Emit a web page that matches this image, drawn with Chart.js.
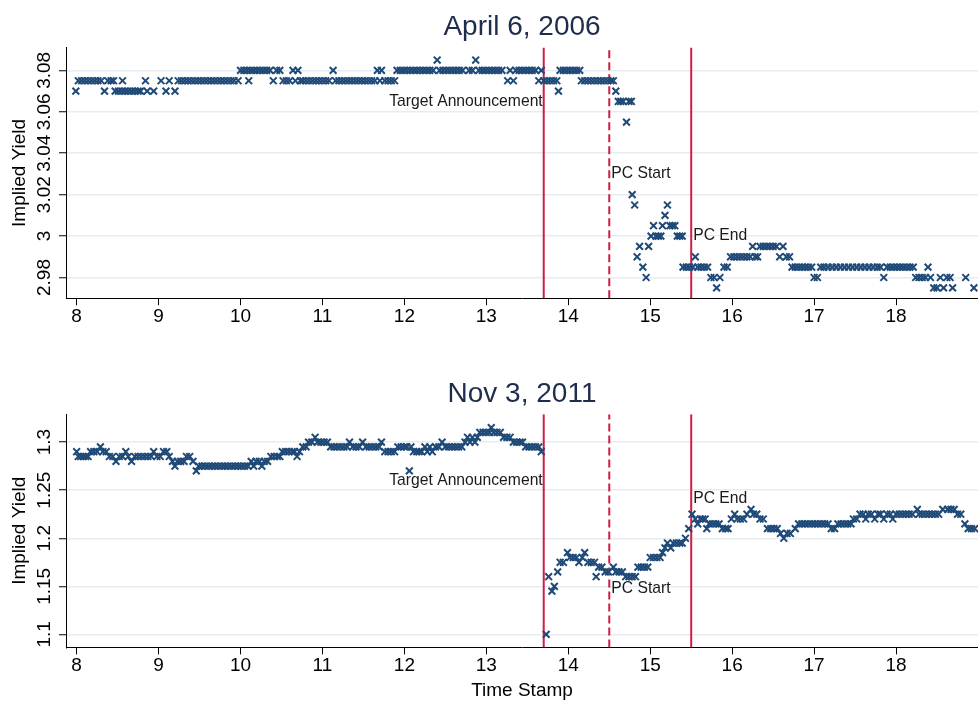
<!DOCTYPE html>
<html lang="en">
<head>
<meta charset="UTF-8">
<title>Implied Yield - April 6, 2006 / Nov 3, 2011</title>
<script src="https://cdn.jsdelivr.net/npm/chart.js"></script>
<style>
  * { margin: 0; padding: 0; box-sizing: border-box; }
  body { width: 978px; height: 702px; background: #fff; position: relative; overflow: hidden; }
  .panel { position: absolute; left: 0; width: 978px; }
  #topPanel { top: 0; height: 330px; }
  #bottomPanel { top: 368px; height: 334px; }
</style>
</head>
<body>
<div class="panel" id="topPanel"><canvas id="topChart" width="978" height="330"></canvas></div>
<div class="panel" id="bottomPanel"><canvas id="bottomChart" width="978" height="334"></canvas></div>
<script>
// time stamps are hours of the day
const xTicks = [8, 9, 10, 11, 12, 13, 14, 15, 16, 17, 18];
const eventTimes = [13.7, 14.5, 15.5];
const eventNames = ['Target Announcement', 'PC Start', 'PC End'];

// April 6, 2006
const topTicks = [2.98, 3, 3.02, 3.04, 3.06, 3.08];
const topLabelYields = [3.065, 3.03, 3.0];
const topTime = [
  7.99, 8.02, 8.06, 8.10, 8.14, 8.18, 8.22, 8.26, 8.30, 8.34,
  8.38, 8.42, 8.45, 8.47, 8.51, 8.55, 8.56, 8.59, 8.63, 8.67,
  8.71, 8.75, 8.78, 8.84, 8.86, 8.94, 9.03, 9.09, 9.13, 9.20,
  9.24, 9.28, 9.32, 9.36, 9.40, 9.44, 9.48, 9.52, 9.56, 9.60,
  9.64, 9.68, 9.72, 9.76, 9.80, 9.84, 9.88, 9.92, 9.97, 10.00,
  10.04, 10.08, 10.10, 10.12, 10.16, 10.20, 10.24, 10.28, 10.32, 10.36,
  10.40, 10.44, 10.48, 10.52, 10.56, 10.60, 10.64, 10.67, 10.70, 10.73,
  10.76, 10.80, 10.84, 10.88, 10.92, 10.96, 11.00, 11.04, 11.08, 11.13,
  11.16, 11.20, 11.24, 11.28, 11.32, 11.36, 11.40, 11.44, 11.48, 11.52,
  11.56, 11.60, 11.64, 11.67, 11.70, 11.72, 11.76, 11.80, 11.84, 11.88,
  11.91, 11.95, 11.99, 12.03, 12.07, 12.11, 12.15, 12.19, 12.23, 12.27,
  12.31, 12.35, 12.40, 12.43, 12.47, 12.51, 12.55, 12.59, 12.63, 12.67,
  12.71, 12.79, 12.83, 12.87, 12.91, 12.95, 12.99, 13.03, 13.07, 13.11,
  13.15, 13.19, 13.26, 13.29, 13.33, 13.36, 13.40, 13.44, 13.48, 13.52,
  13.56, 13.60, 13.64, 13.67, 13.70, 13.74, 13.78, 13.82, 13.86, 13.88,
  13.90, 13.94, 13.98, 14.02, 14.06, 14.10, 14.14, 14.16, 14.20, 14.24,
  14.28, 14.32, 14.36, 14.40, 14.44, 14.48, 14.52, 14.55, 14.58, 14.61,
  14.64, 14.67, 14.71, 14.74, 14.77, 14.78, 14.81, 14.84, 14.87, 14.91,
  14.95, 14.98, 15.01, 15.04, 15.07, 15.10, 15.13, 15.15, 15.18, 15.21,
  15.24, 15.27, 15.30, 15.33, 15.36, 15.39, 15.40, 15.44, 15.48, 15.52,
  15.55, 15.58, 15.62, 15.66, 15.70, 15.74, 15.78, 15.81, 15.85, 15.90,
  15.94, 15.98, 16.02, 16.06, 16.10, 16.14, 16.18, 16.22, 16.25, 16.28,
  16.31, 16.34, 16.38, 16.42, 16.46, 16.50, 16.54, 16.58, 16.62, 16.66,
  16.70, 16.73, 16.77, 16.81, 16.85, 16.89, 16.93, 16.97, 17.00, 17.04,
  17.08, 17.12, 17.17, 17.22, 17.27, 17.32, 17.37, 17.42, 17.47, 17.52,
  17.57, 17.62, 17.67, 17.72, 17.77, 17.81, 17.85, 17.89, 17.93, 17.97,
  18.01, 18.05, 18.09, 18.13, 18.17, 18.21, 18.24, 18.28, 18.32, 18.36,
  18.39, 18.42, 18.46, 18.50, 18.54, 18.58, 18.62, 18.66, 18.69, 18.85,
  18.95
];
const topYield = [
  3.07, 3.075, 3.075, 3.075, 3.075, 3.075, 3.075, 3.075, 3.075, 3.07,
  3.075, 3.075, 3.075, 3.07, 3.07, 3.07, 3.075, 3.07, 3.07, 3.07,
  3.07, 3.07, 3.07, 3.075, 3.07, 3.07, 3.075, 3.07, 3.075, 3.07,
  3.075, 3.075, 3.075, 3.075, 3.075, 3.075, 3.075, 3.075, 3.075, 3.075,
  3.075, 3.075, 3.075, 3.075, 3.075, 3.075, 3.075, 3.075, 3.075, 3.08,
  3.08, 3.08, 3.075, 3.08, 3.08, 3.08, 3.08, 3.08, 3.08, 3.08,
  3.075, 3.08, 3.08, 3.075, 3.075, 3.075, 3.08, 3.075, 3.08, 3.075,
  3.075, 3.075, 3.075, 3.075, 3.075, 3.075, 3.075, 3.075, 3.075, 3.08,
  3.075, 3.075, 3.075, 3.075, 3.075, 3.075, 3.075, 3.075, 3.075, 3.075,
  3.075, 3.075, 3.075, 3.08, 3.075, 3.08, 3.075, 3.075, 3.075, 3.075,
  3.08, 3.08, 3.08, 3.08, 3.08, 3.08, 3.08, 3.08, 3.08, 3.08,
  3.08, 3.08, 3.085, 3.08, 3.08, 3.08, 3.08, 3.08, 3.08, 3.08,
  3.08, 3.08, 3.08, 3.085, 3.08, 3.08, 3.08, 3.08, 3.08, 3.08,
  3.08, 3.08, 3.075, 3.08, 3.075, 3.08, 3.08, 3.08, 3.08, 3.08,
  3.08, 3.08, 3.075, 3.08, 3.075, 3.075, 3.075, 3.075, 3.075, 3.07,
  3.08, 3.08, 3.08, 3.08, 3.08, 3.08, 3.08, 3.075, 3.075, 3.075,
  3.075, 3.075, 3.075, 3.075, 3.075, 3.075, 3.075, 3.075, 3.07, 3.065,
  3.065, 3.065, 3.055, 3.065, 3.065, 3.02, 3.015, 2.99, 2.995, 2.985,
  2.98, 2.995, 3.0, 3.005, 3.0, 3.0, 3.0, 3.005, 3.01, 3.015,
  3.005, 3.005, 3.005, 3.0, 3.0, 3.0, 2.985, 2.985, 2.985, 2.985,
  2.99, 2.985, 2.985, 2.985, 2.985, 2.98, 2.98, 2.975, 2.98, 2.985,
  2.985, 2.99, 2.99, 2.99, 2.99, 2.99, 2.99, 2.99, 2.995, 2.99,
  2.99, 2.995, 2.995, 2.995, 2.995, 2.995, 2.995, 2.99, 2.995, 2.99,
  2.99, 2.985, 2.985, 2.985, 2.985, 2.985, 2.985, 2.985, 2.98, 2.98,
  2.985, 2.985, 2.985, 2.985, 2.985, 2.985, 2.985, 2.985, 2.985, 2.985,
  2.985, 2.985, 2.985, 2.985, 2.985, 2.985, 2.98, 2.985, 2.985, 2.985,
  2.985, 2.985, 2.985, 2.985, 2.985, 2.985, 2.98, 2.98, 2.98, 2.98,
  2.985, 2.98, 2.975, 2.975, 2.98, 2.975, 2.98, 2.98, 2.975, 2.98,
  2.975
];

// Nov 3, 2011
const bottomTicks = [1.1, 1.15, 1.2, 1.25, 1.3];
const bottomLabelYields = [1.26, 1.148, 1.241];
const bottomTime = [
  8.00, 8.02, 8.05, 8.08, 8.11, 8.14, 8.17, 8.21, 8.25, 8.29,
  8.32, 8.36, 8.40, 8.44, 8.48, 8.52, 8.56, 8.60, 8.63, 8.67,
  8.71, 8.75, 8.79, 8.83, 8.87, 8.91, 8.94, 8.98, 9.02, 9.06,
  9.10, 9.13, 9.17, 9.20, 9.23, 9.27, 9.31, 9.34, 9.38, 9.42,
  9.46, 9.49, 9.53, 9.57, 9.61, 9.65, 9.69, 9.73, 9.77, 9.81,
  9.85, 9.89, 9.93, 9.97, 10.01, 10.05, 10.09, 10.13, 10.16, 10.19,
  10.23, 10.26, 10.29, 10.33, 10.37, 10.41, 10.45, 10.48, 10.51, 10.55,
  10.59, 10.63, 10.66, 10.69, 10.72, 10.76, 10.80, 10.83, 10.87, 10.91,
  10.94, 10.98, 11.02, 11.06, 11.10, 11.14, 11.18, 11.22, 11.26, 11.30,
  11.33, 11.37, 11.41, 11.45, 11.49, 11.53, 11.57, 11.61, 11.65, 11.69,
  11.72, 11.76, 11.80, 11.84, 11.88, 11.92, 11.96, 12.00, 12.03, 12.06,
  12.08, 12.11, 12.15, 12.18, 12.21, 12.25, 12.28, 12.31, 12.34, 12.38,
  12.42, 12.46, 12.50, 12.54, 12.58, 12.62, 12.66, 12.70, 12.74, 12.77,
  12.80, 12.83, 12.86, 12.89, 12.92, 12.96, 13.00, 13.04, 13.06, 13.09,
  13.13, 13.17, 13.21, 13.25, 13.29, 13.33, 13.37, 13.41, 13.44, 13.48,
  13.52, 13.56, 13.60, 13.64, 13.67, 13.73, 13.76, 13.80, 13.83, 13.87,
  13.90, 13.94, 13.99, 14.02, 14.06, 14.10, 14.13, 14.17, 14.20, 14.24,
  14.28, 14.32, 14.34, 14.37, 14.41, 14.45, 14.49, 14.55, 14.58, 14.62,
  14.66, 14.70, 14.74, 14.78, 14.82, 14.85, 14.89, 14.93, 14.97, 15.00,
  15.04, 15.08, 15.12, 15.15, 15.18, 15.21, 15.25, 15.28, 15.32, 15.36,
  15.39, 15.43, 15.47, 15.51, 15.55, 15.58, 15.61, 15.64, 15.67, 15.69,
  15.72, 15.76, 15.80, 15.84, 15.88, 15.92, 15.95, 15.99, 16.03, 16.06,
  16.10, 16.14, 16.18, 16.23, 16.26, 16.30, 16.34, 16.38, 16.43, 16.47,
  16.51, 16.55, 16.59, 16.63, 16.67, 16.71, 16.77, 16.81, 16.85, 16.89,
  16.93, 16.97, 17.01, 17.05, 17.09, 17.13, 17.17, 17.21, 17.25, 17.29,
  17.33, 17.37, 17.41, 17.45, 17.48, 17.52, 17.56, 17.60, 17.63, 17.66,
  17.70, 17.74, 17.78, 17.81, 17.85, 17.89, 17.93, 17.96, 18.00, 18.04,
  18.08, 18.12, 18.16, 18.20, 18.26, 18.28, 18.32, 18.36, 18.40, 18.44,
  18.48, 18.52, 18.57, 18.63, 18.67, 18.71, 18.75, 18.79, 18.84, 18.88,
  18.92, 18.96
];
const bottomYield = [
  1.29, 1.285, 1.285, 1.285, 1.285, 1.285, 1.29, 1.29, 1.29, 1.295,
  1.29, 1.29, 1.285, 1.285, 1.28, 1.285, 1.285, 1.29, 1.285, 1.28,
  1.285, 1.285, 1.285, 1.285, 1.285, 1.285, 1.29, 1.285, 1.285, 1.29,
  1.29, 1.285, 1.28, 1.275, 1.28, 1.28, 1.28, 1.285, 1.285, 1.28,
  1.27, 1.275, 1.275, 1.275, 1.275, 1.275, 1.275, 1.275, 1.275, 1.275,
  1.275, 1.275, 1.275, 1.275, 1.275, 1.275, 1.275, 1.28, 1.275, 1.28,
  1.28, 1.275, 1.28, 1.28, 1.285, 1.285, 1.285, 1.285, 1.29, 1.29,
  1.29, 1.29, 1.29, 1.285, 1.29, 1.295, 1.295, 1.30, 1.30, 1.305,
  1.30, 1.30, 1.30, 1.30, 1.295, 1.295, 1.295, 1.295, 1.295, 1.295,
  1.30, 1.295, 1.295, 1.295, 1.30, 1.295, 1.295, 1.295, 1.295, 1.295,
  1.30, 1.29, 1.29, 1.29, 1.29, 1.295, 1.295, 1.295, 1.295, 1.27,
  1.295, 1.29, 1.29, 1.29, 1.29, 1.295, 1.29, 1.295, 1.29, 1.295,
  1.295, 1.30, 1.295, 1.295, 1.295, 1.295, 1.295, 1.295, 1.30, 1.305,
  1.30, 1.305, 1.30, 1.305, 1.31, 1.31, 1.31, 1.31, 1.315, 1.31,
  1.31, 1.31, 1.305, 1.305, 1.305, 1.30, 1.30, 1.30, 1.30, 1.295,
  1.295, 1.295, 1.295, 1.295, 1.29, 1.10, 1.16, 1.145, 1.15, 1.165,
  1.175, 1.175, 1.185, 1.18, 1.18, 1.18, 1.175, 1.18, 1.185, 1.175,
  1.175, 1.175, 1.16, 1.17, 1.17, 1.165, 1.165, 1.17, 1.165, 1.165,
  1.165, 1.16, 1.16, 1.16, 1.16, 1.17, 1.17, 1.17, 1.17, 1.18,
  1.18, 1.18, 1.18, 1.185, 1.19, 1.195, 1.19, 1.195, 1.195, 1.195,
  1.195, 1.2, 1.21, 1.225, 1.22, 1.215, 1.22, 1.22, 1.22, 1.21,
  1.215, 1.215, 1.215, 1.215, 1.21, 1.21, 1.21, 1.22, 1.225, 1.22,
  1.22, 1.22, 1.225, 1.23, 1.225, 1.225, 1.22, 1.22, 1.21, 1.21,
  1.21, 1.21, 1.205, 1.2, 1.205, 1.205, 1.21, 1.215, 1.215, 1.215,
  1.215, 1.215, 1.215, 1.215, 1.215, 1.215, 1.215, 1.21, 1.21, 1.215,
  1.215, 1.215, 1.215, 1.215, 1.22, 1.22, 1.225, 1.225, 1.22, 1.225,
  1.225, 1.22, 1.225, 1.225, 1.22, 1.225, 1.225, 1.22, 1.225, 1.225,
  1.225, 1.225, 1.225, 1.225, 1.23, 1.225, 1.225, 1.225, 1.225, 1.225,
  1.225, 1.225, 1.23, 1.23, 1.23, 1.23, 1.225, 1.225, 1.215, 1.21,
  1.21, 1.21
];

const FONT = '"Liberation Sans", Arial, Helvetica, sans-serif';
const markerColor = '#1f4a78';
const eventColor = '#cf1d45';

// text next to the event lines
const eventLabels = {
    id: 'eventLabels',
    afterDatasetsDraw(chart, args, opts) {
        const ctx = chart.ctx;
        const xs = chart.scales.x, ys = chart.scales.y;
        ctx.save();
        ctx.font = '15.7px ' + FONT;
        ctx.fillStyle = '#1a1a1a';
        ctx.textBaseline = 'middle';
        eventNames.forEach((name, i) => {
            const px = xs.getPixelForValue(eventTimes[i]);
            const py = ys.getPixelForValue(opts.yields[i]);
            if (i === 0) {
                ctx.textAlign = 'right';
                ctx.fillText(name, px - 1, py);
            } else {
                ctx.textAlign = 'left';
                ctx.fillText(name, px + 2, py);
            }
        });
        ctx.restore();
    }
};

function makeChart(id, title, times, yields, yMin, yMax, yTicks, labelYields, showXTitle, titlePad, bottomPad) {
    const datasets = [{
        data: times.map((t, i) => ({x: t, y: yields[i]})),
        showLine: false,
        pointStyle: 'crossRot',
        pointRadius: 4.8,
        pointHoverRadius: 4.8,
        borderColor: markerColor,
        backgroundColor: markerColor,
        borderWidth: 2
    }];
    eventTimes.forEach((t, i) => {
        datasets.push({
            data: [{x: t, y: yMin}, {x: t, y: yMax}],
            showLine: true,
            pointRadius: 0,
            borderColor: eventColor,
            borderWidth: 2,
            borderDash: i === 1 ? [8, 4] : []
        });
    });

    return new Chart(document.getElementById(id), {
        type: 'scatter',
        data: { datasets: datasets },
        plugins: [eventLabels],
        options: {
            responsive: false,
            animation: false,
            devicePixelRatio: 1,
            // the plot runs right up to the edge, no room kept for the markers
            layout: { autoPadding: false, padding: { left: 0, right: 0, top: 0, bottom: bottomPad } },
            plugins: {
                legend: { display: false },
                tooltip: { enabled: false },
                title: {
                    display: true,
                    fullSize: false,
                    text: title,
                    color: '#1f2d4d',
                    font: { family: FONT, size: 28, weight: 'normal' },
                    padding: titlePad
                },
                eventLabels: { yields: labelYields }
            },
            scales: {
                x: {
                    type: 'linear',
                    min: 7.87,
                    max: 19,
                    afterBuildTicks: s => { s.ticks = xTicks.map(v => ({value: v})); },
                    grid: { drawOnChartArea: false, tickLength: 7, tickColor: '#000', tickWidth: 1 },
                    border: { color: '#000', width: 1 },
                    ticks: {
                        font: { family: FONT, size: 19 },
                        color: '#000',
                        padding: 0,
                        maxRotation: 0,
                        autoSkip: false,
                        callback: v => String(v)
                    },
                    title: {
                        display: showXTitle,
                        text: 'Time Stamp',
                        color: '#000',
                        font: { family: FONT, size: 19 },
                        padding: { top: 2, bottom: 0 }
                    }
                },
                y: {
                    min: yMin,
                    max: yMax,
                    afterBuildTicks: s => { s.ticks = yTicks.map(v => ({value: v})); },
                    afterFit: s => { s.width = 66; },
                    grid: { color: '#e6edf2', lineWidth: 1.5, tickColor: '#000', tickLength: 7, tickWidth: 1 },
                    border: { color: '#000', width: 1 },
                    ticks: {
                        font: { family: FONT, size: 19 },
                        color: '#000',
                        minRotation: 90,
                        maxRotation: 90,
                        crossAlign: 'center',
                        padding: -4,
                        autoSkip: false,
                        callback: v => String(v)
                    },
                    title: {
                        display: true,
                        text: 'Implied Yield',
                        color: '#000',
                        font: { family: FONT, size: 19 },
                        padding: { top: 8, bottom: 0 }
                    }
                }
            }
        }
    });
}

makeChart('topChart', 'April 6, 2006', topTime, topYield, 2.97, 3.091, topTicks,
          topLabelYields, false, { top: 10, bottom: 4 }, 2);
makeChart('bottomChart', 'Nov 3, 2011', bottomTime, bottomYield, 1.0865, 1.329, bottomTicks,
          bottomLabelYields, true, { top: 9, bottom: 3.6 }, 0);
</script>
</body>
</html>
